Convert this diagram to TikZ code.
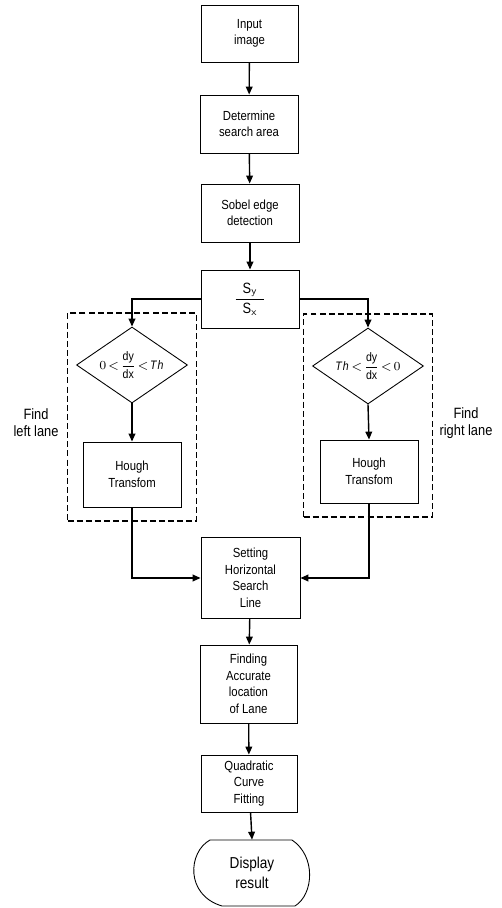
\documentclass[tikz,border=0pt]{standalone}
\usepackage{amsmath}
\usepackage{fontspec}
\setmainfont{Liberation Sans}[FakeStretch=0.86]
\usepackage{tikz}
\usetikzlibrary{arrows.meta,shapes.geometric,positioning,fit,calc}

\begin{document}
\begin{tikzpicture}[x=0.02cm,y=-0.02cm,
  box/.style={draw,line width=0.5pt,minimum width=1.96cm,minimum height=1.16cm,align=center,inner sep=1pt,font=\fontsize{7.5}{9.4}\selectfont},
  cond/.style={diamond,draw,line width=0.5pt,aspect=1.46,minimum width=2.22cm,minimum height=1.52cm,inner sep=0pt,font=\fontsize{7}{8}\selectfont},
  lane/.style={draw,dash pattern=on 3.4pt off 1.8pt,line width=0.7pt,inner xsep=0.17cm,inner ysep=0.27cm},
  side/.style={align=center,font=\fontsize{8.5}{9.6}\selectfont},
  flow/.style={line width=0.8pt,-{Triangle[length=4.5pt,width=3.8pt]}}]
  \useasboundingbox (0,0) rectangle (501,908);

  % Main column
  \node[box,minimum width=1.94cm,minimum height=1.14cm] (input) at (249.5,33.5) {Input\\image};
  \node[box] (det) at (249,124) {Determine\\search area};
  \node[box] (sobel) at (250,213) {Sobel edge\\detection};
  \node[box,font=\fontsize{8.5}{9.4}\selectfont] (ratio) at (250,299)
    {$\dfrac{\hspace{4pt}\mbox{S}_{\mathsf{y}}\hspace{4pt}}{\mbox{S}_{\mathsf{x}}}$};

  % Left lane branch
  \node[cond] (ldia) at (132,365) {$0\!<\!\dfrac{\mbox{dy}}{\mbox{dx}}\!<\!\mathit{Th}$};
  \node[box,minimum height=1.3cm] (lhough) at (132,474.5) {Hough\\Transfom};
  \node[lane,fit=(ldia)(lhough)] (lframe) {};
  \node[side] (lname) at (36,423) {Find\\left lane};

  % Right lane branch
  \node[cond] (rdia) at (368,366) {$\mathit{Th}\!<\!\dfrac{\mbox{dy}}{\mbox{dx}}\!<\!0$};
  \node[box,minimum height=1.26cm] (rhough) at (369,471.5) {Hough\\Transfom};
  \node[lane,fit=(rdia)(rhough)] (rframe) {};
  \node[side] (rname) at (466,423) {Find\\right lane};

  % Lower column
  \node[box,minimum width=1.98cm,minimum height=1.62cm] (hline) at (250.5,578) {Setting\\Horizontal\\Search\\Line};
  \node[box,minimum width=1.94cm,minimum height=1.56cm] (locate) at (248.5,684) {Finding\\Accurate\\location\\of Lane};
  \node[box,minimum width=1.92cm,minimum height=1.14cm] (quad) at (249,783.5) {Quadratic\\Curve\\Fitting};
  \node[minimum width=2.2cm,minimum height=1.32cm,align=center,inner sep=0pt,font=\fontsize{9}{11}\selectfont] (disp) at (252,873) {Display\\result};
  \draw[line width=0.5pt,shift={(disp.center)}] (-42,-33) -- (40,-33)
    .. controls (64,-17) and (62,21) .. (43,33) -- (-30,33)
    .. controls (-67,22) and (-64,-21) .. (-42,-33) -- cycle;

  % Connectors
  \draw[flow] (input) -- (det);
  \draw[flow] (det) -- (sobel);
  \draw[flow] (sobel) -- (ratio);
  \draw[flow] (ratio.west) -| (ldia.north);
  \draw[flow] (ratio.east) -| (rdia.north);
  \draw[flow] (ldia.south) -- (lhough.north);
  \draw[flow] (rdia.south) -- (rhough.north);
  \draw[flow] (lhough.south) |- (hline.west);
  \draw[flow] (rhough.south) |- (hline.east);
  \draw[flow] (hline) -- (locate);
  \draw[flow] (locate) -- (quad);
  \draw[flow] (quad) -- (disp.north);
\end{tikzpicture}
\end{document}
